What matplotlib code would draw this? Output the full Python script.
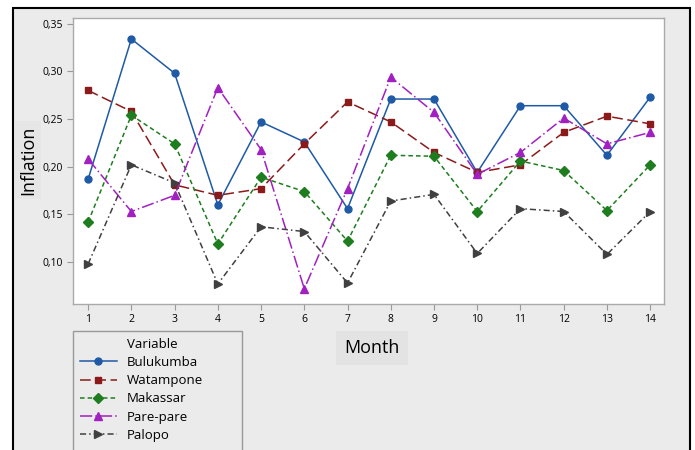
import matplotlib.pyplot as plt
import numpy as np
from matplotlib.lines import Line2D
from matplotlib.patches import Rectangle
from matplotlib.ticker import FuncFormatter

plt.rcParams['font.family'] = ['Open Sans', 'DejaVu Sans']

# ***************************** DATA *****************************
month = list(range(1, 15))
bulukumba = [0.187, 0.334, 0.298, 0.160, 0.247, 0.226, 0.156, 0.271, 0.271, 0.194, 0.264, 0.264, 0.212, 0.273]
watampone = [0.280, 0.258, 0.181, 0.170, 0.177, 0.224, 0.268, 0.247, 0.215, 0.194, 0.202, 0.236, 0.253, 0.245]
makassar = [0.142, 0.254, 0.224, 0.119, 0.189, 0.174, 0.122, 0.212, 0.211, 0.153, 0.206, 0.196, 0.154, 0.202]
parepare = [0.208, 0.153, 0.170, 0.283, 0.218, 0.072, 0.177, 0.294, 0.257, 0.192, 0.215, 0.251, 0.224, 0.236]
palopo = [0.098, 0.202, 0.183, 0.077, 0.137, 0.132, 0.078, 0.164, 0.171, 0.109, 0.156, 0.153, 0.108, 0.153]
series_names = ['Bulukumba', 'Watampone', 'Makassar', 'Pare-pare', 'Palopo']
yticks = [0.10, 0.15, 0.20, 0.25, 0.30, 0.35]

# ***************************** PLOT *****************************
W, H = 695, 450
fig = plt.figure(figsize=(W / 100, H / 100), dpi=100)
fig.patch.set_facecolor('white')
fig.patches.append(Rectangle((13 / W, -0.05), (690 - 13) / W, 1 - 8 / H + 0.05,
                             transform=fig.transFigure, facecolor='#ebebeb',
                             edgecolor='black', linewidth=1.5, zorder=-10))
# legend frame (wider than the entries, runs off the bottom)
fig.patches.append(Rectangle((73 / W, -0.02), (242 - 73) / W, 1 - 331 / H + 0.02,
                             transform=fig.transFigure, facecolor='#ebebeb',
                             edgecolor='#999999', linewidth=1, zorder=-5))

ax = fig.add_axes([73 / W, 1 - 304 / H, (664 - 73) / W, (304 - 18) / H])
ax.set_facecolor('white')

styles = [
    dict(color='#1f5aa6', marker='o', linestyle='-', ms=5),
    dict(color='#8b1a1a', marker='s', linestyle=(0, (7, 3)), ms=5),
    dict(color='#1e7d1e', marker='D', linestyle=(0, (3, 2)), ms=5),
    dict(color='#a020c0', marker='^', linestyle=(0, (8, 2, 1, 2)), ms=6),
    dict(color='#404040', marker='>', linestyle=(0, (4, 2, 1, 2)), ms=6),
]
data = [bulukumba, watampone, makassar, parepare, palopo]
handles = []
for name, vals, st in zip(series_names, data, styles):
    h, = ax.plot(month, vals, color=st['color'], marker=st['marker'],
                 linestyle=st['linestyle'], markersize=st['ms'], linewidth=1.1,
                 markeredgecolor=st['color'], label=name)
    handles.append(h)

ax.set_xlim(0.65, 14.32)
ax.set_ylim(0.056, 0.356)
ax.set_xticks(month)
ax.set_yticks(yticks)
ax.yaxis.set_major_formatter(FuncFormatter(lambda v, p: f'{v:.2f}'.replace('.', ',')))
ax.tick_params(axis='both', labelsize=7.5, color='#999999', length=4, direction='out')
for s in ax.spines.values():
    s.set_color('#aaaaaa')
    s.set_linewidth(1)

fig.text(372 / W, 1 - 348 / H, 'Month', ha='center', va='center', fontsize=13,
         bbox=dict(facecolor='#e3e3e3', edgecolor='none', pad=6))
fig.text(28 / W, 1 - 160 / H, 'Inflation', ha='center', va='center', fontsize=13,
         rotation=90, bbox=dict(facecolor='#e6e6e6', edgecolor='none', pad=3))

blank = Line2D([], [], linestyle='none', marker=None)
leg = fig.legend([blank] + handles, ['Variable'] + series_names,
                 loc='upper left', bbox_to_anchor=(73 / W, 1 - 331 / H),
                 bbox_transform=fig.transFigure, borderaxespad=0,
                 fontsize=9.5, labelspacing=0.4, handlelength=2.8,
                 frameon=False, borderpad=0.5)

plt.savefig('out.png', dpi=100)
